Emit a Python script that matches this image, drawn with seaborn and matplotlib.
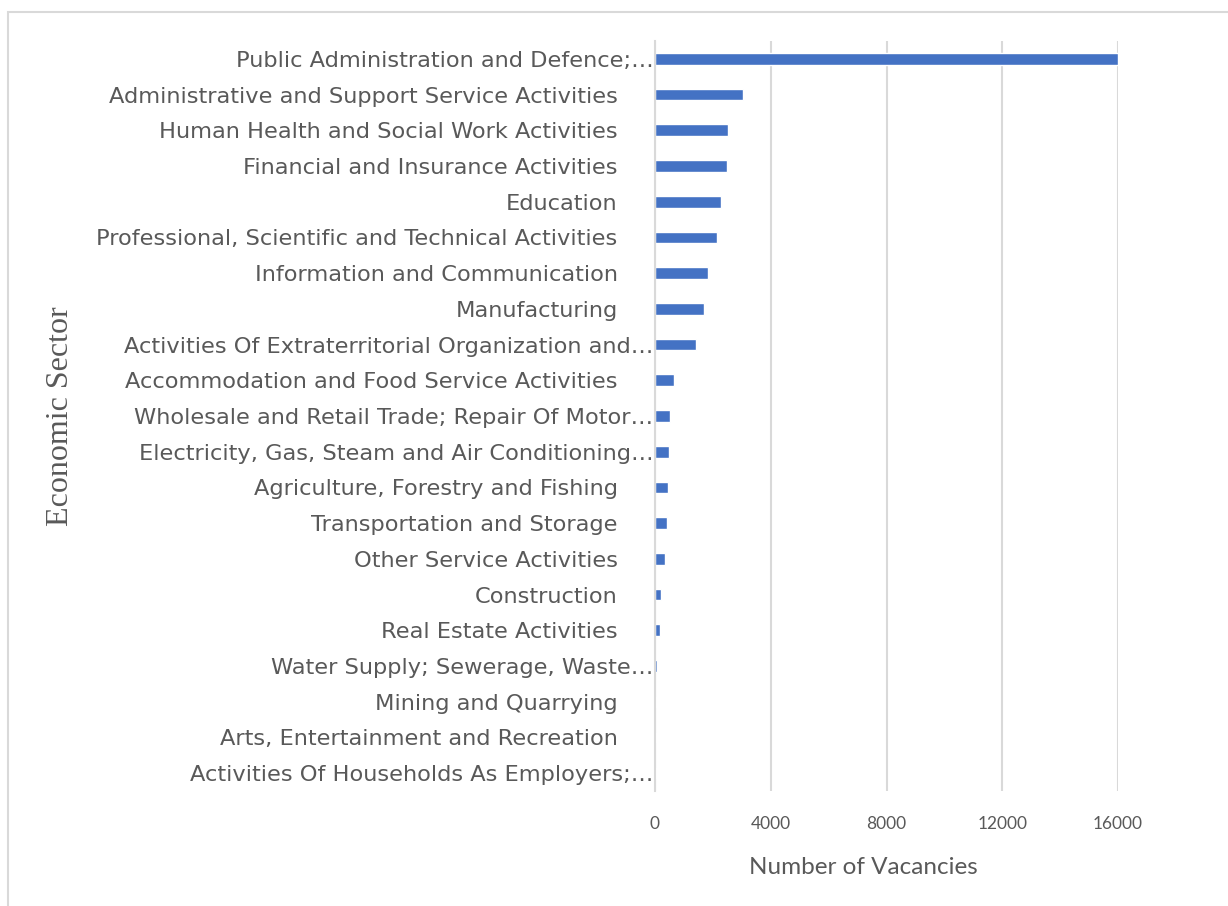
import matplotlib
matplotlib.use('Agg')
import matplotlib.pyplot as plt
import matplotlib.patches as patches
import matplotlib.transforms as mtransforms
import pandas as pd
import seaborn as sns

# Data
sectors = [
    'Public Administration and Defence;…',
    'Administrative and Support Service Activities',
    'Human Health and Social Work Activities',
    'Financial and Insurance Activities',
    'Education',
    'Professional, Scientific and Technical Activities',
    'Information and Communication',
    'Manufacturing',
    'Activities Of Extraterritorial Organization and…',
    'Accommodation and Food Service Activities',
    'Wholesale and Retail Trade; Repair Of Motor…',
    'Electricity, Gas, Steam and Air Conditioning…',
    'Agriculture, Forestry and Fishing',
    'Transportation and Storage',
    'Other Service Activities',
    'Construction',
    'Real Estate Activities',
    'Water Supply; Sewerage, Waste…',
    'Mining and Quarrying',
    'Arts, Entertainment and Recreation',
    'Activities Of Households As Employers;…',
]
vacancies = [16000, 3030, 2510, 2475, 2280, 2130, 1830, 1690, 1415,
             640, 510, 490, 455, 430, 340, 200, 180, 60, 45, 30, 25]
x_ticks = [0, 4000, 8000, 12000, 16000]

df = pd.DataFrame({'sector': sectors, 'vacancies': vacancies})

sns.set_style('white')
text_grey = '#595959'
grid_grey = '#D9D9D9'

fig = plt.figure(figsize=(12.28, 9.06), dpi=100)
ax = fig.add_axes([655 / 1228, 1 - 791 / 906, 463 / 1228, 750 / 906])

sns.barplot(data=df, x='vacancies', y='sector', orient='h', color='#4472C4',
            width=0.33, saturation=1, ax=ax)

ax.set_xlim(0, 16000)
ax.set_xticks(x_ticks)
ax.set_xticklabels([str(t) for t in x_ticks], family='Lato', fontsize=12.5,
                   color=text_grey)
ax.tick_params(axis='x', length=0, pad=18)
ax.tick_params(axis='y', length=0, pad=1)
ax.set_yticks(range(len(sectors)))
ax.set_yticklabels(sectors, family='DejaVu Sans', fontsize=16.2,
                   color=text_grey)

# labels that were not shortened sit further from the axis
shift = mtransforms.ScaledTranslation(-0.36, 0, fig.dpi_scale_trans)
for lbl in ax.get_yticklabels():
    if not lbl.get_text().endswith('…'):
        lbl.set_transform(lbl.get_transform() + shift)

ax.grid(axis='x', color=grid_grey, linewidth=1.5)
ax.set_axisbelow(True)
for side in ['top', 'right', 'bottom']:
    ax.spines[side].set_visible(False)
ax.spines['left'].set_color(grid_grey)
ax.spines['left'].set_linewidth(1.5)

ax.set_xlabel('Number of Vacancies', family='Lato', fontsize=17.5,
              color=text_grey, va='center')
ax.xaxis.set_label_coords(0.449, -0.102)
ax.set_ylabel('Economic Sector', family='Liberation Serif', fontsize=23,
              color=text_grey, va='center')
ax.yaxis.set_label_coords((60 - 655) / 463, 0.5)

# chart frame, partly cut off by the image edges
frame = patches.Rectangle((8 / 1228, -0.1), 1.2, 1.1 - 12 / 906,
                          transform=fig.transFigure, fill=False,
                          edgecolor=grid_grey, linewidth=1.5, clip_on=False)
fig.patches.append(frame)

plt.savefig('out.png', dpi=100)
